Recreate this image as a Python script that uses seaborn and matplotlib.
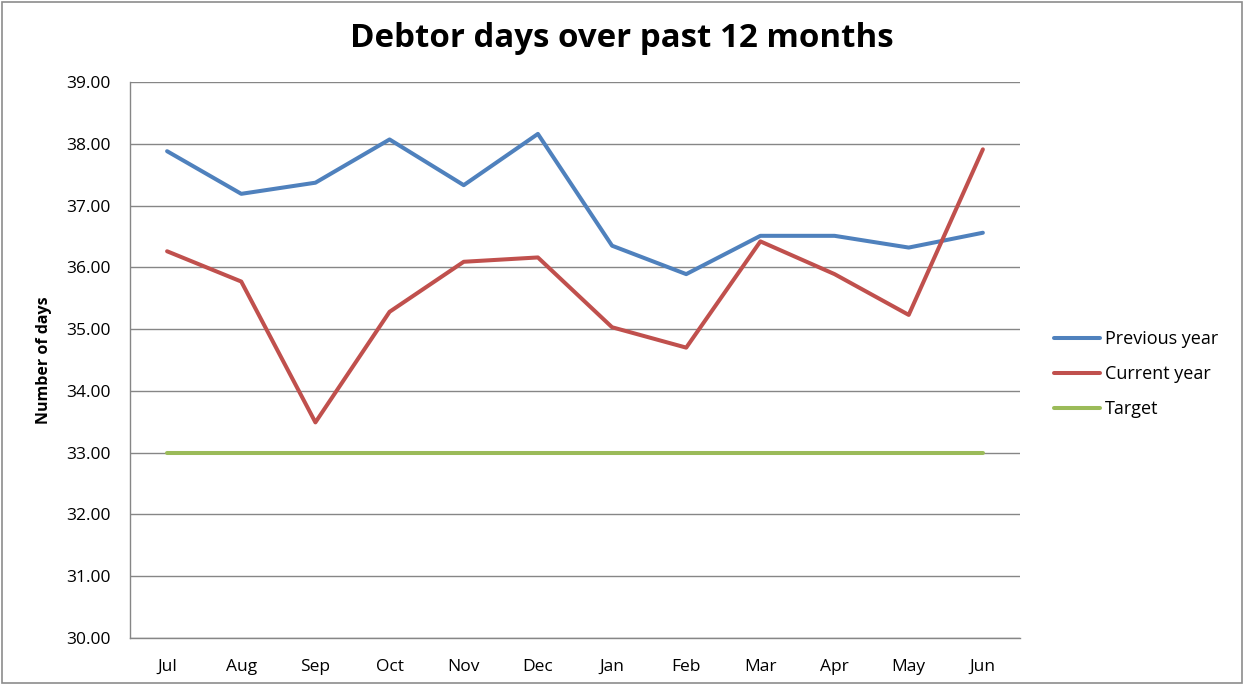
import numpy as np
import pandas as pd
import matplotlib
matplotlib.use("Agg")
import matplotlib.pyplot as plt
from matplotlib.patches import Rectangle
from matplotlib.ticker import FixedLocator, FormatStrFormatter
import seaborn as sns

months = ['Jul', 'Aug', 'Sep', 'Oct', 'Nov', 'Dec', 'Jan', 'Feb', 'Mar', 'Apr', 'May', 'Jun']
previous_year = [37.88, 37.19, 37.37, 38.07, 37.33, 38.16, 36.35, 35.89, 36.51, 36.51, 36.32, 36.56]
current_year = [36.26, 35.77, 33.49, 35.28, 36.09, 36.16, 35.03, 34.70, 36.42, 35.89, 35.23, 37.91]
target = [33.0] * 12
series_names = ['Previous year', 'Current year', 'Target']
series_colors = ['#4F81BD', '#C0504D', '#9BBB59']

df = pd.DataFrame({
    'Month': months * 3,
    'Days': previous_year + current_year + target,
    'Series': np.repeat(series_names, len(months)),
})

sns.set_style("white")
plt.rcParams['font.family'] = ['Open Sans', 'DejaVu Sans']
plt.rcParams['text.color'] = 'black'
plt.rcParams['axes.labelcolor'] = 'black'

fig = plt.figure(figsize=(12.44, 6.84), dpi=100)
ax = fig.add_axes([0.1045, 0.0673, 0.7154, 0.8128])

sns.lineplot(data=df, x='Month', y='Days', hue='Series', hue_order=series_names,
             palette=series_colors, linewidth=2.9, sort=False, ax=ax)

grey = '#868686'
ax.set_ylim(30, 39)
ax.set_yticks(np.arange(30, 40, 1))
ax.yaxis.set_major_formatter(FormatStrFormatter('%.2f'))
ax.set_xlim(-0.5, len(months) - 0.5)
ax.set_xticks(range(len(months)))
ax.set_xticklabels(months)
ax.xaxis.set_minor_locator(FixedLocator(np.arange(-0.5, len(months), 1)))
ax.tick_params(axis='x', which='major', length=0, pad=15, labelsize=12.5, labelcolor='black')
ax.tick_params(axis='x', which='minor', length=6, width=1, color=grey, direction='out')
ax.tick_params(axis='y', which='major', length=6, width=1, color=grey, direction='out',
               labelsize=12.5, labelcolor='black', pad=8)
ax.grid(axis='y', color=grey, linewidth=1)
ax.set_axisbelow(True)
for side in ['top', 'right']:
    ax.spines[side].set_visible(False)
for side in ['left', 'bottom']:
    ax.spines[side].set_color(grey)
    ax.spines[side].set_linewidth(1)

ax.set_xlabel('')
ax.set_ylabel('Number of days', fontsize=11.5, fontweight='bold', labelpad=10)
# title is centred on the whole chart, not the plot area
ax.set_title('Debtor days over past 12 months', fontsize=23.8, fontweight='bold', pad=25,
             color='black', x=0.553)

ax.legend(loc='center left', bbox_to_anchor=(0.834, 0.453), bbox_transform=fig.transFigure,
          frameon=False, fontsize=13, handlelength=2.55, handletextpad=0.3,
          labelspacing=0.94)

fig.patches.append(Rectangle((0.0015, 0.002), 0.997, 0.995, transform=fig.transFigure,
                             fill=False, edgecolor='#8c8c8c', linewidth=1.2))

fig.savefig('out.png', dpi=100)
